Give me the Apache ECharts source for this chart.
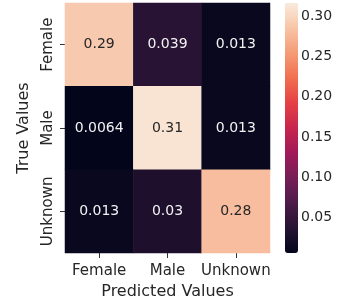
<!DOCTYPE html>
<html>
<head>
<meta charset="utf-8">
<script src="https://cdn.jsdelivr.net/npm/echarts@6/dist/echarts.min.js"></script>
<style>
  html, body { margin: 0; padding: 0; background: #fff; }
  #chart { width: 343px; height: 302px; }
</style>
</head>
<body>
<div id="chart"></div>
<script>
const predictedLabels = ['Female', 'Male', 'Unknown']
const trueLabels = ['Female', 'Male', 'Unknown']
// rows = true values, columns = predicted values
const confusion = [
  [0.29, 0.039, 0.013],
  [0.0064, 0.31, 0.013],
  [0.013, 0.03, 0.28]
]
const colorbarTicks = [0.05, 0.10, 0.15, 0.20, 0.25, 0.30]
const colorMin = 0.0064
const colorMax = 0.316

// seaborn "rocket", evenly spaced stops
const rocket = ['#03051a', '#261333', '#4d1b48', '#761e57', '#a11959', '#c7254e',
  '#e54045', '#f16f50', '#f59b76', '#f7c4a6', '#faebdd']

const cells = []
confusion.forEach((row, r) => {
  row.forEach((v, c) => {
    cells.push({
      value: [c, r, v],
      label: { color: v > 0.15 ? '#262626' : '#f2f2f2' }
    })
  })
})

const font = 'DejaVu Sans'
const chart = echarts.init(document.getElementById('chart'))
chart.setOption({
  animation: false,
  textStyle: { fontFamily: font },
  grid: [
    { left: 65, right: 73, top: 3, bottom: 49, outerBoundsMode: 'none' },
    { left: 285, top: 3, width: 13, height: 250, outerBoundsMode: 'none' }
  ],
  xAxis: [
    {
      type: 'category',
      data: predictedLabels,
      name: 'Predicted Values',
      nameLocation: 'middle',
      nameGap: 30,
      nameTextStyle: { fontSize: 16, color: '#262626', fontFamily: font },
      axisLine: { show: false },
      axisTick: { show: true, alignWithLabel: true, length: 5, lineStyle: { color: '#333' } },
      axisLabel: { interval: 0, fontSize: 15, color: '#262626', margin: 11, fontFamily: font },
      splitLine: { show: false }
    },
    { gridIndex: 1, type: 'value', show: false }
  ],
  yAxis: [
    {
      type: 'category',
      data: trueLabels,
      inverse: true,
      name: 'True Values',
      nameLocation: 'middle',
      nameGap: 33,
      nameTextStyle: { fontSize: 16, color: '#262626', fontFamily: font },
      axisLine: { show: false },
      axisTick: { show: true, alignWithLabel: true, length: 5, lineStyle: { color: '#333' } },
      axisLabel: {
        interval: 0,
        fontSize: 15,
        color: '#262626',
        rotate: 90,
        align: 'center',
        verticalAlign: 'bottom',
        margin: 9,
        fontFamily: font
      },
      splitLine: { show: false }
    },
    {
      gridIndex: 1,
      type: 'value',
      min: colorMin,
      max: colorMax,
      position: 'right',
      axisLine: { show: false },
      splitLine: { show: false },
      axisTick: { show: true, customValues: colorbarTicks, length: 4, lineStyle: { color: '#333' } },
      axisLabel: {
        customValues: colorbarTicks,
        formatter: v => v.toFixed(2),
        fontSize: 14,
        color: '#262626',
        margin: 3,
        fontFamily: font
      }
    }
  ],
  visualMap: {
    type: 'continuous',
    seriesIndex: 0,
    dimension: 2,
    min: colorMin,
    max: colorMax,
    inRange: { color: rocket },
    calculable: false,
    hoverLink: false,
    orient: 'vertical',
    left: 285,
    top: 3,
    itemWidth: 13,
    itemHeight: 250,
    padding: 0,
    text: null
  },
  series: [
    {
      type: 'heatmap',
      xAxisIndex: 0,
      yAxisIndex: 0,
      data: cells,
      label: {
        show: true,
        fontSize: 14,
        fontFamily: font,
        formatter: p => String(p.value[2])
      },
      itemStyle: { borderWidth: 0 }
    }
  ]
})
</script>
</body>
</html>
